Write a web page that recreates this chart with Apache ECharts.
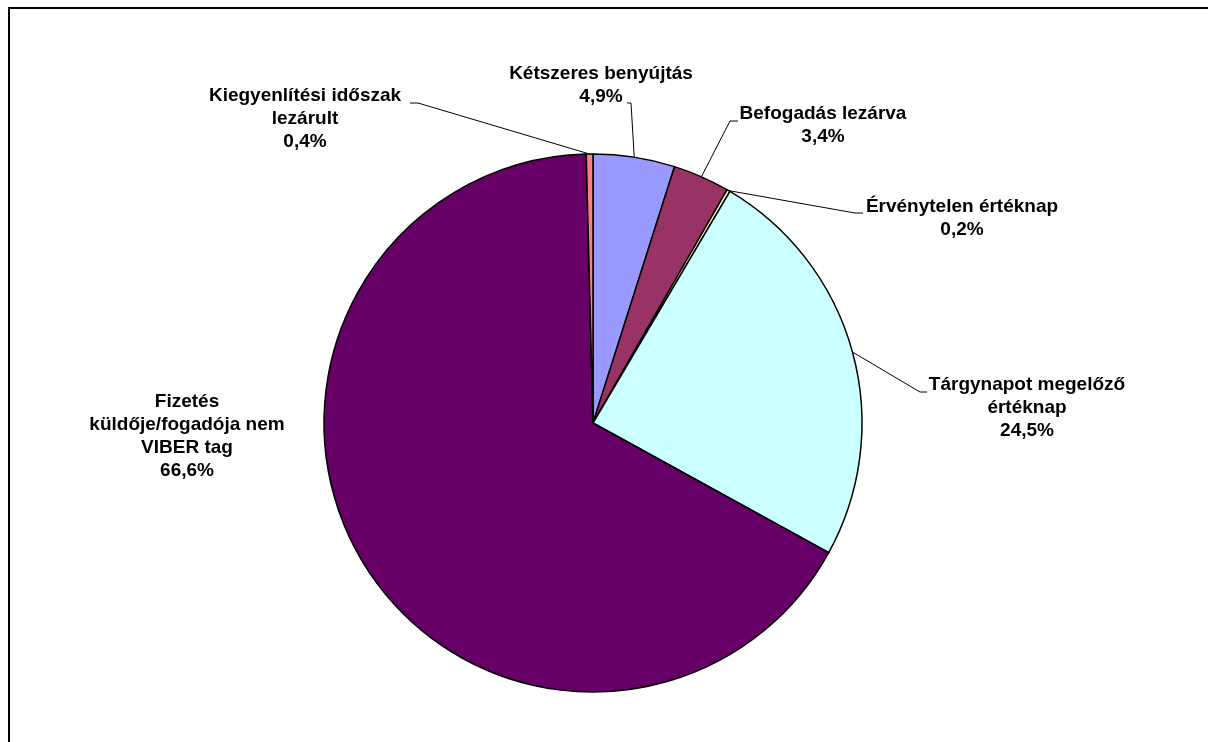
<!DOCTYPE html>
<html><head><meta charset="utf-8">
<script src="https://cdn.jsdelivr.net/npm/echarts@6/dist/echarts.min.js"></script>
<style>html,body{margin:0;padding:0;background:#fff}#c{width:1208px;height:742px}</style>
</head><body><div id="c"></div>
<script>
// ---- data ----
const categories = ['Kétszeres benyújtás', 'Befogadás lezárva', 'Érvénytelen értéknap',
  'Tárgynapot megelőző értéknap', 'Fizetés küldője/fogadója nem VIBER tag', 'Kiegyenlítési időszak lezárult'];
const labelText = [['Kétszeres benyújtás'], ['Befogadás lezárva'], ['Érvénytelen értéknap'],
  ['Tárgynapot megelőző', 'értéknap'], ['Fizetés', 'küldője/fogadója nem', 'VIBER tag'], ['Kiegyenlítési időszak', 'lezárult']];
const values = [4.9, 3.4, 0.2, 24.5, 66.6, 0.4];
const colors = ['#9999FF', '#993366', '#FFFFCC', '#CCFFFF', '#660066', '#FF8080'];

// ---- label placement (centre of text block) and leader-line bends ----
const labelPos = [[601, 85], [823, 125], [962, 218], [1027, 408], [187, 436], [305, 119]];
const leaderBends = [
  [[631, 103], [627, 103]],
  [[730, 121], [738, 121]],
  [[855, 213], [863, 213]],
  [[920, 392], [927, 392]],
  null,
  [[418, 103], [410, 103]]
];

const fmt = v => v.toFixed(1).replace('.', ',') + '%';

const chart = echarts.init(document.getElementById('c'), null, { renderer: 'canvas' });
chart.setOption({
  animation: false,
  backgroundColor: '#fff',
  graphic: [{
    type: 'rect', silent: true,
    shape: { x: 9, y: 8, width: 1400, height: 900 },
    style: { fill: 'none', stroke: '#000', lineWidth: 2 }
  }],
  series: [{
    type: 'pie',
    center: [593, 423],
    radius: [0, 269],
    startAngle: 90,
    clockwise: true,
    minAngle: 0,
    avoidLabelOverlap: false,
    itemStyle: { borderColor: '#000', borderWidth: 1.5 },
    label: {
      show: true,
      position: 'outside',
      fontFamily: '"Liberation Sans", Arial, sans-serif',
      fontWeight: 'bold',
      fontSize: 19,
      lineHeight: 23,
      color: '#000',
      align: 'center',
      formatter: p => labelText[p.dataIndex].concat([fmt(p.value)]).join('\n')
    },
    labelLine: { show: true, length: 20, length2: 10, smooth: false, lineStyle: { color: '#000', width: 1 } },
    labelLayout: function (params) {
      const i = params.dataIndex;
      const out = { x: labelPos[i][0], y: labelPos[i][1], align: 'center', verticalAlign: 'middle' };
      if (leaderBends[i] && params.labelLinePoints) {
        out.labelLinePoints = [params.labelLinePoints[0]].concat(leaderBends[i]);
      }
      return out;
    },
    data: categories.map((c, i) => ({
      name: c,
      value: values[i],
      itemStyle: { color: colors[i] },
      labelLine: { show: leaderBends[i] !== null }
    }))
  }]
});
</script>
</body></html>
